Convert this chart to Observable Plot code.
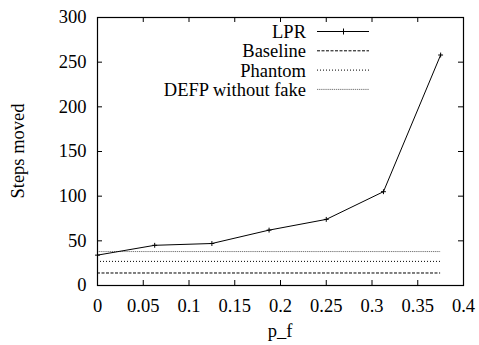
<!DOCTYPE html>
<html><head><meta charset="utf-8">
<script src="https://cdn.jsdelivr.net/npm/d3@7"></script>
<script src="https://cdn.jsdelivr.net/npm/@observablehq/plot@0.6"></script>
<style>
body{margin:0;background:#fff}
#chart{position:relative;width:479px;height:345px}
#chart svg, #chart svg text{font-family:"Liberation Serif","Times New Roman",serif !important;}
</style>
</head><body><div id="chart"></div>
<script>
const pf = [0, 0.0625, 0.125, 0.1875, 0.25, 0.3125, 0.375];
const lprValues = [34, 45, 47, 62, 74, 105, 258];
const constNames = ["Baseline", "Phantom", "DEFP without fake"];
const constValues = [14, 27, 38];
const constXStart = 0, constXEnd = 0.375;
const seriesNames = ["LPR", "Baseline", "Phantom", "DEFP without fake"];
const xTicks = [0, 0.05, 0.1, 0.15, 0.2, 0.25, 0.3, 0.35, 0.4];
const xTickLabels = ["0", "0.05", "0.1", "0.15", "0.2", "0.25", "0.3", "0.35", "0.4"];
const yTicks = [0, 50, 100, 150, 200, 250, 300];
const xLabel = "p_f", yLabel = "Steps moved";

const styles = {
  "LPR": {stroke: "#000", dash: null},
  "Baseline": {stroke: "#000", dash: "3,1.5"},
  "Phantom": {stroke: "#000", dash: "1,2"},
  "DEFP without fake": {stroke: "#777", dash: "1.3,0.8"}
};

const lpr = pf.map((x, i) => ({x, y: lprValues[i]}));
const consts = constNames.map((name, i) => ({name, value: constValues[i]}));

const W = 479, H = 345, mL = 97, mR = 16, mT = 17, mB = 60;
const innerH = H - mT - mB, tickLen = 5;
const FONT = "Liberation Serif";
const FS = 18.5;

const chart = Plot.plot({
  width: W, height: H,
  marginLeft: mL, marginRight: mR, marginTop: mT, marginBottom: mB,
  style: {fontFamily: FONT, fontSize: FS + "px", background: "#fff", color: "#000"},
  x: {domain: [0, 0.4]},
  y: {domain: [0, 300]},
  marks: [
    Plot.ruleX(xTicks, {x: d => d, insetTop: innerH - tickLen, stroke: "#000"}),
    Plot.ruleX(xTicks, {x: d => d, insetBottom: innerH - tickLen, stroke: "#000"}),
    Plot.ruleY(yTicks, {y: d => d, insetRight: (W - mL - mR) - tickLen, stroke: "#000"}),
    Plot.ruleY(yTicks, {y: d => d, insetLeft: (W - mL - mR) - tickLen, stroke: "#000"}),
    Plot.axisX(xTicks, {tickSize: 0, tickPadding: 13, tickFormat: (d, i) => xTickLabels[i], label: null}),
    Plot.axisY(yTicks, {tickSize: 0, tickPadding: 11, label: null}),
    ...consts.map(c => Plot.ruleY([c], {y: "value", x1: constXStart, x2: constXEnd,
      stroke: styles[c.name].stroke, strokeDasharray: styles[c.name].dash, strokeWidth: 1})),
    Plot.line(lpr, {x: "x", y: "y", stroke: "#000", strokeWidth: 1}),
    Plot.dot(lpr, {x: "x", y: "y", symbol: "plus", r: 1.7, stroke: "#000", strokeWidth: 1}),
    Plot.frame({stroke: "#000", strokeWidth: 1.2})
  ]
});
document.getElementById("chart").appendChild(chart);

const svg = d3.select(chart);
svg.append("text").attr("x", mL + (W - mL - mR) / 2).attr("y", 337)
  .attr("text-anchor", "middle").attr("font-size", FS).attr("font-family", FONT).attr("fill", "#000").text(xLabel);
svg.append("text").attr("transform", `translate(24,${mT + innerH / 2}) rotate(-90)`)
  .attr("text-anchor", "middle").attr("font-size", FS).attr("font-family", FONT).attr("fill", "#000").text(yLabel);

const lg = svg.append("g");
seriesNames.forEach((name, i) => {
  const y = 31.5 + i * 19.3;
  lg.append("text").attr("x", 306).attr("y", y).attr("dy", "0.35em")
    .attr("text-anchor", "end").attr("font-size", FS).attr("font-family", FONT).attr("fill", "#000").text(name);
  lg.append("line").attr("x1", 317).attr("x2", 369).attr("y1", y).attr("y2", y)
    .attr("stroke", styles[name].stroke).attr("stroke-width", 1)
    .attr("stroke-dasharray", styles[name].dash);
  if (name === "LPR") {
    lg.append("line").attr("x1", 343.5).attr("x2", 343.5).attr("y1", y - 3).attr("y2", y + 3)
      .attr("stroke", "#000").attr("stroke-width", 1);
  }
});
</script></body></html>
